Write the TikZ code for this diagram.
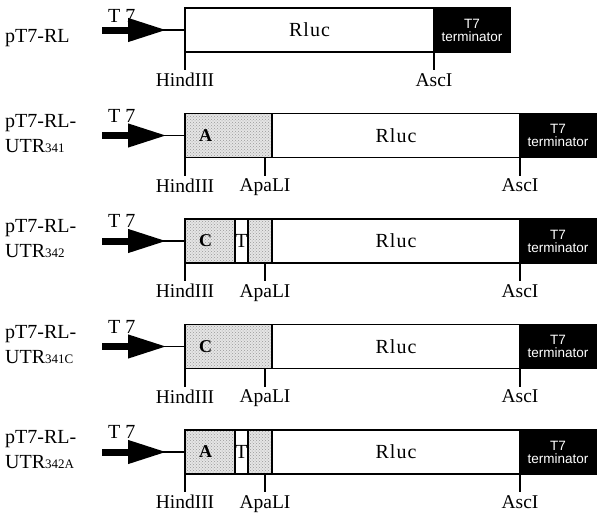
\documentclass[tikz,border=0pt]{standalone}
\usepackage{fontspec}
\setmainfont{Liberation Serif}
\newfontfamily\termfont{Liberation Sans}
\newfontfamily\rlucfont[LetterSpace=5]{Liberation Serif}
\usetikzlibrary{
  calc,
  arrows.meta,
  positioning,
  patterns}

\newcommand{\labfont}{\fontsize{20}{25}\selectfont}
\newcommand{\sitefont}{\fontsize{19.5}{22}\selectfont}
\newcommand{\subfont}{\fontsize{13}{13}\selectfont}

\begin{document}
\begin{tikzpicture}[x=1pt,y=-1pt]
  \tikzset{seg/.style={draw,
                       line width=1.8pt,
                       minimum height=44pt,
                       inner sep=0pt,
                       outer sep=0pt},
           utr/.style={seg,
                       preaction={fill=black!10},
                       pattern=crosshatch dots,
                       pattern color=black!40},
           rluc/.style={seg,font=\rlucfont\fontsize{20}{20}\selectfont},
           term/.style={seg,fill=black,text=white,align=center,
                        font=\termfont\fontsize{13.5}{13}\selectfont},
           tsmall/.style={seg,font=\fontsize{20}{20}\selectfont},
           utrlab/.style={inner sep=0pt,font=\bfseries\fontsize{18}{18}\selectfont},
           tick/.style={line width=1.8pt},
           site/.style={anchor=north,inner sep=2.5pt,font=\sitefont},
           plasmid/.style={anchor=north west,inner sep=0pt,align=left,font=\labfont},
           tlabel/.style={anchor=base west,inner sep=0pt,font=\labfont},
           promoter/.style={line width=7pt,-{Triangle[length=39pt,width=22pt]}},
           lead/.style={line width=1.5pt}
          }

\useasboundingbox (0,0) rectangle (597,517);

%%%%%%%%%%%%%%%%%%%%%%%%%%%%%%%%%%%%%%%%%%%%%%%%%%%%%%%%%%%%%%%%%%%%%%%%%%%%%%
%% pT7-RL
\node[rluc,minimum width=249pt,anchor=north west] (r1rluc) at (185,8) {Rluc};
\node[term,minimum width=76pt,right=0pt of r1rluc] (r1term) {T7\\terminator};

\node[plasmid] (r1name) at (5,29.5) {pT7-RL};
\node[tlabel] (r1t7) at (108,22) {T 7};
\coordinate[left=83pt of r1rluc.west] (r1tail);
\coordinate[left=18pt of r1rluc.west] (r1tip);

\draw[tick] (r1rluc.south west) -- ++(0,18) node[site] (r1hind) {HindIII};
\draw[tick] (r1rluc.south east) -- ++(0,18) node[site] (r1asc) {AscI};

%%%%%%%%%%%%%%%%%%%%%%%%%%%%%%%%%%%%%%%%%%%%%%%%%%%%%%%%%%%%%%%%%%%%%%%%%%%%%%
%% pT7-RL-UTR341
\node[utr,minimum width=87pt,anchor=north west] (r2a) at (185,113.5) {};
\node[rluc,minimum width=248pt,right=0pt of r2a] (r2rluc) {Rluc};
\node[term,minimum width=76pt,right=0pt of r2rluc] (r2term) {T7\\terminator};
\node[utrlab,right=14pt of r2a.west] (r2alab) {A};

\node[plasmid] (r2name) at (5,114) {pT7-RL-\\UTR{\subfont 341}};
\node[tlabel] (r2t7) at (108,122) {T 7};
\coordinate[left=83pt of r2a.west] (r2tail);
\coordinate[left=18pt of r2a.west] (r2tip);

\draw[tick] (r2a.south west) -- ++(0,18) node[site] (r2hind) {HindIII};
\draw[tick] ($(r2a.south east)+(-7,0)$) -- ++(0,18) node[site] (r2apa) {ApaLI};
\draw[tick] (r2rluc.south east) -- ++(0,18) node[site] (r2asc) {AscI};

%%%%%%%%%%%%%%%%%%%%%%%%%%%%%%%%%%%%%%%%%%%%%%%%%%%%%%%%%%%%%%%%%%%%%%%%%%%%%%
%% pT7-RL-UTR342
\node[utr,minimum width=50pt,anchor=north west] (r3c) at (185,219) {};
\node[tsmall,minimum width=13pt,right=0pt of r3c] (r3t) {T};
\node[utr,minimum width=24pt,right=0pt of r3t] (r3b) {};
\node[rluc,minimum width=248pt,right=0pt of r3b] (r3rluc) {Rluc};
\node[term,minimum width=76pt,right=0pt of r3rluc] (r3term) {T7\\terminator};
\node[utrlab,right=14pt of r3c.west] (r3clab) {C};

\node[plasmid] (r3name) at (5,219.5) {pT7-RL-\\UTR{\subfont 342}};
\node[tlabel] (r3t7) at (108,227.5) {T 7};
\coordinate[left=83pt of r3c.west] (r3tail);
\coordinate[left=18pt of r3c.west] (r3tip);

\draw[tick] (r3c.south west) -- ++(0,18) node[site] (r3hind) {HindIII};
\draw[tick] ($(r3b.south east)+(-7,0)$) -- ++(0,18) node[site] (r3apa) {ApaLI};
\draw[tick] (r3rluc.south east) -- ++(0,18) node[site] (r3asc) {AscI};

%%%%%%%%%%%%%%%%%%%%%%%%%%%%%%%%%%%%%%%%%%%%%%%%%%%%%%%%%%%%%%%%%%%%%%%%%%%%%%
%% pT7-RL-UTR341C
\node[utr,minimum width=87pt,anchor=north west] (r4c) at (185,324.5) {};
\node[rluc,minimum width=248pt,right=0pt of r4c] (r4rluc) {Rluc};
\node[term,minimum width=76pt,right=0pt of r4rluc] (r4term) {T7\\terminator};
\node[utrlab,right=14pt of r4c.west] (r4clab) {C};

\node[plasmid] (r4name) at (5,325) {pT7-RL-\\UTR{\subfont 341C}};
\node[tlabel] (r4t7) at (108,333) {T 7};
\coordinate[left=83pt of r4c.west] (r4tail);
\coordinate[left=18pt of r4c.west] (r4tip);

\draw[tick] (r4c.south west) -- ++(0,18) node[site] (r4hind) {HindIII};
\draw[tick] ($(r4c.south east)+(-7,0)$) -- ++(0,18) node[site] (r4apa) {ApaLI};
\draw[tick] (r4rluc.south east) -- ++(0,18) node[site] (r4asc) {AscI};

%%%%%%%%%%%%%%%%%%%%%%%%%%%%%%%%%%%%%%%%%%%%%%%%%%%%%%%%%%%%%%%%%%%%%%%%%%%%%%
%% pT7-RL-UTR342A
\node[utr,minimum width=50pt,anchor=north west] (r5a) at (185,430) {};
\node[tsmall,minimum width=13pt,right=0pt of r5a] (r5t) {T};
\node[utr,minimum width=24pt,right=0pt of r5t] (r5b) {};
\node[rluc,minimum width=248pt,right=0pt of r5b] (r5rluc) {Rluc};
\node[term,minimum width=76pt,right=0pt of r5rluc] (r5term) {T7\\terminator};
\node[utrlab,right=14pt of r5a.west] (r5alab) {A};

\node[plasmid] (r5name) at (5,430.5) {pT7-RL-\\UTR{\subfont 342A}};
\node[tlabel] (r5t7) at (108,438.5) {T 7};
\coordinate[left=83pt of r5a.west] (r5tail);
\coordinate[left=18pt of r5a.west] (r5tip);

\draw[tick] (r5a.south west) -- ++(0,18) node[site] (r5hind) {HindIII};
\draw[tick] ($(r5b.south east)+(-7,0)$) -- ++(0,18) node[site] (r5apa) {ApaLI};
\draw[tick] (r5rluc.south east) -- ++(0,18) node[site] (r5asc) {AscI};

%%%%%%%%%%%%%%%%%%%%%%%%%%%%%%%%%%%%%%%%%%%%%%%%%%%%%%%%%%%%%%%%%%%%%%%%%%%%%%
\draw[lead] (r1tail) -- (r1rluc.west);
\draw[lead] (r2tail) -- (r2a.west);
\draw[lead] (r3tail) -- (r3c.west);
\draw[lead] (r4tail) -- (r4c.west);
\draw[lead] (r5tail) -- (r5a.west);

\draw[promoter] (r1tail) -- (r1tip);
\draw[promoter] (r2tail) -- (r2tip);
\draw[promoter] (r3tail) -- (r3tip);
\draw[promoter] (r4tail) -- (r4tip);
\draw[promoter] (r5tail) -- (r5tip);

%%%%%%%%%%%%%%%%%%%%%%%%%%%%%%%%%%%%%%%%%%%%%%%%%%%%%%%%%%%%%%%%%%%%%%%%%%%%%%

\end{tikzpicture}
\end{document}
